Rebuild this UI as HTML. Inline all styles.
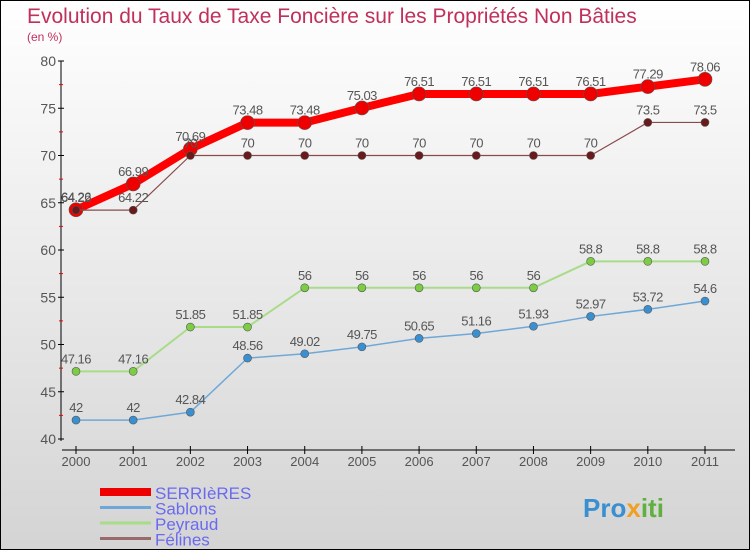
<!DOCTYPE html>
<html><head><meta charset="utf-8"><style>
body{margin:0;}
#c{width:750px;height:550px;position:relative;overflow:hidden;}
svg text{font-family:"Liberation Sans","DejaVu Sans",sans-serif;}
</style></head><body>
<div id="c">
<svg id="s" width="750" height="550" xmlns="http://www.w3.org/2000/svg">
<defs><linearGradient id="bg" x1="0" y1="0" x2="0" y2="1"><stop offset="0" stop-color="#ffffff"/><stop offset="1" stop-color="#d4d4d4"/></linearGradient></defs>
<rect x="0.5" y="0.5" width="749" height="549" fill="url(#bg)" stroke="#000"/>
<text x="27" y="23" font-size="21" fill="#c0305a">Evolution du Taux de Taxe Foncière sur les Propriétés Non Bâties</text>
<text x="27" y="41" font-size="12" fill="#c0305a">(en %)</text>
<g id="axes"></g><g id="series"></g><g id="legend"></g>
<g><text x="583" y="517" font-size="26" font-weight="bold" fill="#3a8fd0">Pro<tspan fill="#f0a020">x</tspan><tspan fill="#60b040">iti</tspan></text></g>
</svg></div>
<script>
const years=[2000,2001,2002,2003,2004,2005,2006,2007,2008,2009,2010,2011];
const serrieres=[64.26,66.99,70.69,73.48,73.48,75.03,76.51,76.51,76.51,76.51,77.29,78.06];
const sablons=[42,42,42.84,48.56,49.02,49.75,50.65,51.16,51.93,52.97,53.72,54.6];
const peyraud=[47.16,47.16,51.85,51.85,56,56,56,56,56,58.8,58.8,58.8];
const felines=[64.22,64.22,70,70,70,70,70,70,70,70,73.5,73.5];
const yTicks=[40,45,50,55,60,65,70,75,80];
const seriesNames=["SERRIèRES","Sablons","Peyraud","Félines"];
const NS="http://www.w3.org/2000/svg";
function X(i){return 76+i*(705-76)/11;}
function Y(v){return 439-(v-40)*(439-61)/40;}
function mk(tag,attrs,parent,txt){const e=document.createElementNS(NS,tag);for(const k in attrs)e.setAttribute(k,attrs[k]);if(txt!==undefined)e.textContent=txt;parent.appendChild(e);return e;}
const ax=document.getElementById('axes');
let e=mk('line',{x1:61,y1:Y(80),x2:61,y2:441,stroke:'#000'},ax);


e=mk('line',{x1:62,y1:450,x2:735,y2:450,stroke:'#000'},ax);


yTicks.forEach((v,i)=>{
 mk('line',{x1:58,y1:Y(v),x2:64,y2:Y(v),stroke:'#000'},ax);
 if(i<yTicks.length-1)mk('line',{x1:59,y1:Y(v+2.5),x2:63,y2:Y(v+2.5),stroke:'#e00'},ax);
 const t=mk('text',{x:56,y:Y(v)+5,'font-size':14,fill:'#555','text-anchor':'end'},ax,String(v));
 
 
});
years.forEach((y,i)=>{
 mk('line',{x1:X(i),y1:446,x2:X(i),y2:454,stroke:'#000'},ax);
 const t=mk('text',{x:X(i),y:466,'font-size':13,fill:'#555','text-anchor':'middle'},ax,String(y));
 
 
});
const sg=document.getElementById('series');
function draw(vals,name,color,w,r,fill){
 const g=mk('g',{},sg);
 
 
 mk('polyline',{points:vals.map((v,i)=>X(i)+','+Y(v)).join(' '),fill:'none',stroke:color,'stroke-width':w,'stroke-linejoin':'round'},g);
 vals.forEach((v,i)=>{
  const c=mk('circle',{cx:X(i),cy:Y(v),r:r,fill:fill,stroke:'#555','stroke-width':0.6},g);
  
  
  const t=mk('text',{x:X(i),y:Y(v)-8,'font-size':13,fill:'#555','text-anchor':'middle','letter-spacing':'-0.5'},g,String(v));
  
  
 });
}
draw(sablons,'sablons','#6fa8d8',1.5,4,'#3a8fd0');
draw(peyraud,'peyraud','#a8dc88',2,4,'#7ccc44');
draw(serrieres,'serrieres','#ff0000',8,7,'#ee0000');
draw(felines,'felines','#8a4a4a',1.2,4,'#6a1a1a');
const lg=document.getElementById('legend');
const lc=['#ee0000','#6fa8d8','#a8dc88','#9a6a6a'];const lw=[8,3,3,3];
seriesNames.forEach((n,i)=>{
 const yy=492+i*15.5;
 const g=mk('g',{},lg);
 
 
 mk('line',{x1:100,y1:yy,x2:151,y2:yy,stroke:lc[i],'stroke-width':lw[i]},g);
 mk('text',{x:155,y:yy+7,'font-size':17,fill:'#6a6af0'},g,n);
});
</script>
</body></html>
